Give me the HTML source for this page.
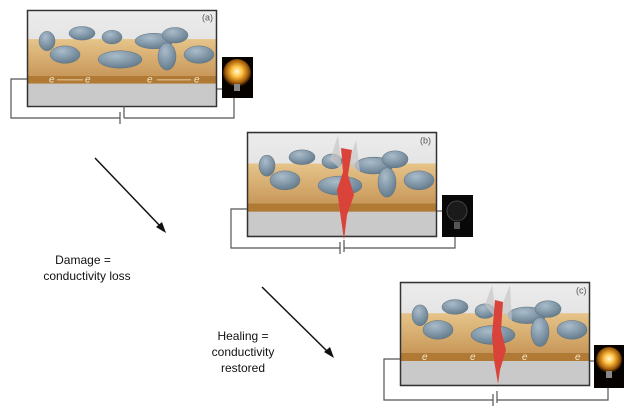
<!DOCTYPE html>
<html><head><meta charset="utf-8"><style>
html,body{margin:0;padding:0;background:#fff;width:628px;height:415px;overflow:hidden}
</style></head><body>
<svg width="628" height="415" viewBox="0 0 628 415" xmlns="http://www.w3.org/2000/svg" font-family="Liberation Sans, sans-serif">
<defs>
<radialGradient id="on" cx="50%" cy="45%" r="55%"><stop offset="0" stop-color="#fffbe0"/><stop offset="0.35" stop-color="#ffc040"/><stop offset="0.75" stop-color="#a05a08"/><stop offset="1" stop-color="#050200"/></radialGradient>
<radialGradient id="blob" cx="40%" cy="30%" r="70%"><stop offset="0" stop-color="#a9bccb"/><stop offset="1" stop-color="#667d8e"/></radialGradient>
<linearGradient id="top" x1="0" y1="0" x2="0" y2="1"><stop offset="0" stop-color="#ececec"/><stop offset="1" stop-color="#d4d4d4"/></linearGradient>
<linearGradient id="slab" x1="0" y1="0" x2="0" y2="1"><stop offset="0" stop-color="#e6c48a"/><stop offset="1" stop-color="#c9985a"/></linearGradient>
<g id="blobs" fill="url(#blob)" stroke="#5d7383" stroke-width="0.5">
<ellipse cx="20" cy="32" rx="8" ry="10"/>
<ellipse cx="55" cy="24" rx="13" ry="7"/>
<ellipse cx="85" cy="28" rx="10" ry="7"/>
<ellipse cx="127" cy="32" rx="19" ry="8"/>
<ellipse cx="148" cy="26" rx="13" ry="8"/>
<ellipse cx="38" cy="46" rx="15" ry="9"/>
<ellipse cx="93" cy="51" rx="22" ry="9"/>
<ellipse cx="140" cy="48" rx="9" ry="14"/>
<ellipse cx="172" cy="46" rx="15" ry="9"/>
</g>
<g id="panel">
<rect x="0" y="0" width="190" height="100" fill="url(#top)"/>
<rect x="0" y="30" width="190" height="38" fill="url(#slab)"/>
<rect x="0" y="68" width="190" height="8" fill="#b07a35"/>
<rect x="0" y="76" width="190" height="24" fill="#c9c9c9"/>
<use href="#blobs"/>
<rect x="0.5" y="0.5" width="189" height="99" fill="none" stroke="#333" stroke-width="1.5"/>
</g>
</defs>

<!-- (a) -->
<g transform="translate(27,10) scale(1,0.97)"><use href="#panel"/>
<g fill="#f5e6c8" font-size="10" font-style="italic"><text x="22" y="75">e</text><text x="58" y="75">e</text><text x="120" y="75">e</text><text x="167" y="75">e</text></g>
<g stroke="#f5e6c8" stroke-width="0.8"><line x1="30" y1="72" x2="56" y2="72"/><line x1="130" y1="72" x2="164" y2="72"/></g>
<text x="175" y="11" font-size="9" fill="#555">(a)</text></g>
<rect x="222" y="57" width="31" height="41" fill="#050200"/>
<circle cx="237" cy="73" r="14" fill="url(#on)"/><rect x="234" y="84" width="6" height="7" fill="#888"/>
<g fill="none" stroke="#555" stroke-width="1.2">
<polyline points="27,79 11,79 11,118 120,118"/><line x1="120" y1="112" x2="120" y2="124"/><line x1="124" y1="106" x2="124" y2="118"/>
<polyline points="124,118 234,118 234,98"/><line x1="217" y1="89" x2="222" y2="89"/></g>

<!-- (b) -->
<g transform="translate(247,132) scale(1,1.05)"><use href="#panel"/>
<text x="173" y="11" font-size="9" fill="#555">(b)</text></g>
<g fill="#c8c8c8" opacity="0.7"><polygon points="330,160 338,135 342,170"/><polygon points="348,165 356,140 360,172"/></g>
<polygon points="341,148 352,150 348,175 354,195 347,215 344,240 340,212 337,190 343,172" fill="#d9433a"/>
<rect x="442" y="195" width="31" height="42" fill="#080808"/>
<circle cx="457" cy="211" r="10" fill="#1a1a1a" stroke="#444"/><rect x="454" y="222" width="6" height="7" fill="#555"/>
<g fill="none" stroke="#555" stroke-width="1.2">
<polyline points="247,209 231,209 231,248 340,248"/><line x1="340" y1="242" x2="340" y2="254"/><line x1="344" y1="240" x2="344" y2="252"/>
<polyline points="344,248 455,248 455,237"/><line x1="437" y1="211" x2="442" y2="211"/></g>

<!-- (c) -->
<g transform="translate(400,282) scale(1,1.04)"><use href="#panel"/>
<g fill="#f5e6c8" font-size="10" font-style="italic"><text x="22" y="75">e</text><text x="70" y="75">e</text><text x="122" y="75">e</text><text x="175" y="75">e</text></g>
<text x="176" y="11" font-size="9" fill="#555">(c)</text></g>
<g fill="#c8c8c8" opacity="0.7"><polygon points="485,305 492,285 497,320"/><polygon points="500,310 510,285 512,322"/></g>
<polygon points="495,300 503,302 501,330 506,350 500,370 498,384 494,360 492,335" fill="#d9433a"/>
<rect x="594" y="345" width="30" height="43" fill="#050200"/>
<circle cx="609" cy="360" r="13" fill="url(#on)"/><rect x="606" y="371" width="6" height="7" fill="#888"/>
<g fill="none" stroke="#555" stroke-width="1.2">
<polyline points="400,359 384,359 384,400 493,400"/><line x1="493" y1="394" x2="493" y2="406"/><line x1="497" y1="391" x2="497" y2="403"/>
<polyline points="497,400 608,400 608,388"/><line x1="590" y1="361" x2="594" y2="361"/></g>

<!-- arrows -->
<g stroke="#111" stroke-width="1.5"><line x1="95" y1="158" x2="162" y2="228"/><line x1="262" y1="287" x2="330" y2="354"/></g>
<polygon points="166,233 156,227 162,222" fill="#111"/>
<polygon points="334,358 324,352 330,347" fill="#111"/>
<g font-size="12" fill="#111" text-anchor="middle">
<text x="83" y="264">Damage =</text><text x="87" y="280">conductivity loss</text>
<text x="243" y="340">Healing =</text><text x="243" y="356">conductivity</text><text x="243" y="372">restored</text></g>
</svg>
</body></html>
